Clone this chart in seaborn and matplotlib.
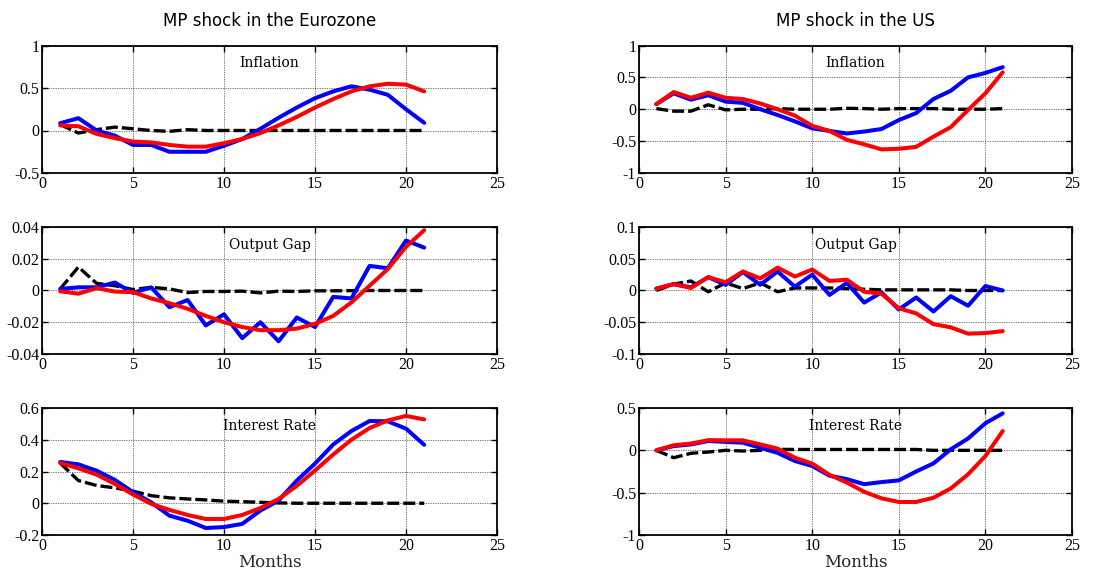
import numpy as np
import matplotlib
matplotlib.use("Agg")
import matplotlib.pyplot as plt
import seaborn as sns
from matplotlib.ticker import FixedLocator, FixedFormatter

sns.set_theme(style="white")
plt.rcParams["font.family"] = ["Liberation Serif", "DejaVu Serif"]
plt.rcParams["axes.unicode_minus"] = False

months = np.arange(1, 22)

# Euro area monetary policy shock
ez_infl_blue = [0.086, 0.145, 0.0, -0.06, -0.17, -0.17, -0.25, -0.25, -0.25, -0.18, -0.10,
                0.02, 0.15, 0.27, 0.38, 0.46, 0.52, 0.48, 0.42, 0.25, 0.09]
ez_infl_red = [0.06, 0.05, -0.04, -0.09, -0.13, -0.14, -0.17, -0.19, -0.19, -0.15, -0.10,
               -0.03, 0.06, 0.16, 0.27, 0.37, 0.46, 0.52, 0.55, 0.54, 0.46]
ez_infl_black = [0.07, -0.03, 0.01, 0.04, 0.02, 0.0, -0.01, 0.01, 0.0, 0.0, 0.0,
                 0.0, 0.0, 0.0, 0.0, 0.0, 0.0, 0.0, 0.0, 0.0, 0.0]

ez_gap_blue = [0.001, 0.002, 0.002, 0.005, -0.0015, 0.002, -0.0105, -0.006, -0.022, -0.015, -0.030,
               -0.020, -0.032, -0.017, -0.023, -0.004, -0.005, 0.0155, 0.014, 0.0315, 0.027]
ez_gap_red = [-0.0005, -0.002, 0.0015, -0.0007, -0.001, -0.005, -0.008, -0.0115, -0.016, -0.020, -0.023,
              -0.025, -0.025, -0.024, -0.021, -0.016, -0.0075, 0.003, 0.0135, 0.0275, 0.038]
ez_gap_black = [0.001, 0.0148, 0.0045, 0.003, 0.0006, 0.002, 0.001, -0.0013, -0.0006, -0.0006, -0.0004,
                -0.0015, -0.0004, -0.0006, -0.0002, -0.0002, -0.0001, 0.0, 0.0, 0.0, 0.0]

ez_rate_blue = [0.26, 0.245, 0.205, 0.147, 0.07, 0.006, -0.078, -0.11, -0.156, -0.15, -0.13,
                -0.046, 0.017, 0.143, 0.25, 0.37, 0.455, 0.518, 0.516, 0.47, 0.368]
ez_rate_red = [0.253, 0.22, 0.18, 0.122, 0.055, -0.004, -0.042, -0.074, -0.099, -0.099, -0.074,
               -0.03, 0.027, 0.11, 0.206, 0.307, 0.40, 0.474, 0.522, 0.55, 0.528]
ez_rate_black = [0.253, 0.143, 0.112, 0.097, 0.076, 0.048, 0.034, 0.027, 0.021, 0.013, 0.01,
                 0.006, 0.002, 0.0, 0.0, 0.0, 0.0, 0.0, 0.0, 0.0, 0.0]

# US monetary policy shock
us_infl_blue = [0.08, 0.25, 0.15, 0.22, 0.12, 0.10, 0.0, -0.09, -0.19, -0.30, -0.34,
                -0.38, -0.35, -0.31, -0.17, -0.06, 0.16, 0.29, 0.50, 0.57, 0.66]
us_infl_red = [0.08, 0.27, 0.18, 0.26, 0.18, 0.16, 0.09, 0.0, -0.10, -0.26, -0.34,
               -0.48, -0.55, -0.63, -0.62, -0.59, -0.43, -0.28, -0.01, 0.25, 0.58]
us_infl_black = [0.01, -0.03, -0.03, 0.07, -0.01, 0.0, 0.0, 0.01, 0.0, 0.0, 0.0,
                 0.015, 0.01, 0.0, 0.01, 0.01, 0.01, 0.0, 0.0, 0.0, 0.01]

us_gap_blue = [0.003, 0.010, 0.005, 0.021, 0.009, 0.029, 0.009, 0.030, 0.006, 0.025, -0.007,
               0.012, -0.019, -0.003, -0.030, -0.011, -0.033, -0.009, -0.024, 0.007, 0.0]
us_gap_red = [0.003, 0.010, 0.004, 0.021, 0.013, 0.030, 0.019, 0.036, 0.022, 0.033, 0.015,
              0.017, -0.002, -0.005, -0.028, -0.036, -0.053, -0.058, -0.068, -0.067, -0.064]
us_gap_black = [0.0, 0.010, 0.015, -0.002, 0.012, 0.003, 0.012, -0.002, 0.004, 0.004, 0.004,
                0.003, 0.002, 0.001, 0.001, 0.001, 0.001, 0.001, 0.0, 0.0, 0.0]

us_rate_blue = [0.0, 0.05, 0.07, 0.11, 0.10, 0.09, 0.03, -0.03, -0.126, -0.185, -0.30,
                -0.34, -0.40, -0.375, -0.355, -0.25, -0.154, 0.012, 0.14, 0.32, 0.437]
us_rate_red = [0.0, 0.06, 0.08, 0.12, 0.118, 0.118, 0.07, 0.02, -0.087, -0.157, -0.29,
               -0.38, -0.49, -0.567, -0.61, -0.61, -0.56, -0.45, -0.283, -0.067, 0.228]
us_rate_black = [0.0, -0.087, -0.035, -0.02, 0.0, -0.008, 0.0, 0.012, 0.01, 0.01, 0.01,
                 0.01, 0.01, 0.01, 0.01, 0.01, 0.0, 0.0, 0.0, 0.0, 0.0]

col_titles = ["MP shock in the Eurozone", "MP shock in the US"]
row_labels = ["Inflation", "Output Gap", "Interest Rate"]
x_ticks = [0, 5, 10, 15, 20, 25]
y_ticks = {
    (0, 0): ([-0.5, 0, 0.5, 1], ["-0.5", "0", "0.5", "1"]),
    (1, 0): ([-0.04, -0.02, 0, 0.02, 0.04], ["-0.04", "-0.02", "0", "0.02", "0.04"]),
    (2, 0): ([-0.2, 0, 0.2, 0.4, 0.6], ["-0.2", "0", "0.2", "0.4", "0.6"]),
    (0, 1): ([-1, -0.5, 0, 0.5, 1], ["-1", "-0.5", "0", "0.5", "1"]),
    (1, 1): ([-0.1, -0.05, 0, 0.05, 0.1], ["-0.1", "-0.05", "0", "0.05", "0.1"]),
    (2, 1): ([-1, -0.5, 0, 0.5], ["-1", "-0.5", "0", "0.5"]),
}

series = {
    (0, 0): (ez_infl_black, ez_infl_blue, ez_infl_red),
    (1, 0): (ez_gap_black, ez_gap_blue, ez_gap_red),
    (2, 0): (ez_rate_black, ez_rate_blue, ez_rate_red),
    (0, 1): (us_infl_black, us_infl_blue, us_infl_red),
    (1, 1): (us_gap_black, us_gap_blue, us_gap_red),
    (2, 1): (us_rate_black, us_rate_blue, us_rate_red),
}

W, H = 1107, 569
fig = plt.figure(figsize=(W / 100, H / 100), dpi=100)
fig.patch.set_facecolor("white")

col_x = [(42, 455), (639, 433)]
row_y = [(45.5, 127.5), (227, 127), (408, 127)]

for r in range(3):
    for c in range(2):
        x0, w = col_x[c]
        top, h = row_y[r]
        ax = fig.add_axes([x0 / W, 1 - (top + h) / H, w / W, h / H])
        black, blue, red = series[(r, c)]
        sns.lineplot(x=months, y=black, color="black", linewidth=2.4,
                     linestyle=(0, (3.6, 1.2)), ax=ax, zorder=3)
        sns.lineplot(x=months, y=blue, color="#0000ff", linewidth=2.9, ax=ax, zorder=4)
        sns.lineplot(x=months, y=red, color="#ff0000", linewidth=2.9, ax=ax, zorder=5)

        yt, yl = y_ticks[(r, c)]
        ax.set_xlim(0, 25)
        ax.set_ylim(yt[0], yt[-1])
        ax.xaxis.set_major_locator(FixedLocator(x_ticks))
        ax.xaxis.set_major_formatter(FixedFormatter([str(t) for t in x_ticks]))
        ax.yaxis.set_major_locator(FixedLocator(yt))
        ax.yaxis.set_major_formatter(FixedFormatter(yl))
        ax.set_facecolor("white")
        ax.grid(True, color="black", linestyle=(0, (1, 1.5)), linewidth=0.5)
        ax.set_axisbelow(True)
        for s in ax.spines.values():
            s.set_visible(True)
            s.set_color("black")
            s.set_linewidth(1.3)
        ax.tick_params(direction="in", length=4, width=1, colors="black",
                       top=True, right=True, bottom=True, left=True,
                       labelsize=11.5, pad=2)
        ax.set_xlabel("")
        ax.set_ylabel("")
        ax.text(0.5, 0.86, row_labels[r], transform=ax.transAxes, ha="center",
                va="center", fontsize=10, family=["DejaVu Serif"], color="black")
        if r == 2:
            ax.set_xlabel("Months", fontsize=12, family=["DejaVu Serif"], labelpad=0)

for c in range(2):
    x0, w = col_x[c]
    fig.text((x0 + w / 2) / W, 1 - 21 / H, col_titles[c], ha="center", va="center",
             fontsize=12, family=["DejaVu Sans"], color="black")

fig.savefig("out.png", dpi=100, facecolor="white")
